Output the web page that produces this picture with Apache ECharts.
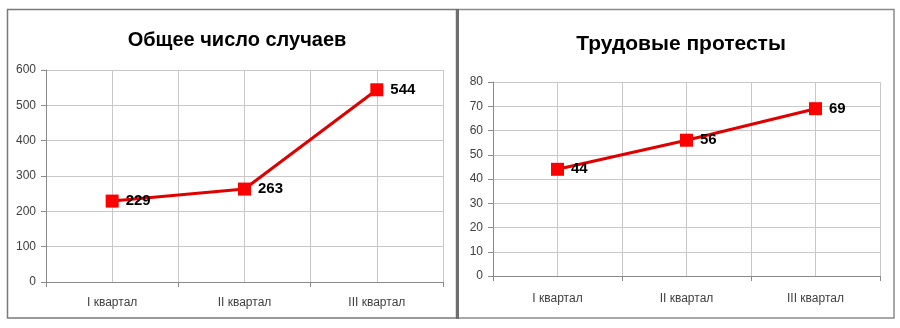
<!DOCTYPE html>
<html><head><meta charset="utf-8">
<script src="https://cdn.jsdelivr.net/npm/echarts@6/dist/echarts.min.js"></script>
<style>html,body{margin:0;padding:0;background:#fff}#c{width:900px;height:328px}</style>
</head><body><div id="c"></div>
<script>
const categories = ['I квартал', 'II квартал', 'III квартал'];
const totalCases = [229, 263, 544];
const laborProtests = [44, 56, 69];
const titles = ['Общее число случаев', 'Трудовые протесты'];

const FONT = '"Liberation Sans", Arial, sans-serif';
const gridColor = '#c8c8c8';
const axisColor = '#8a8a8a';
const textColor = '#404040';

const chart = echarts.init(document.getElementById('c'));

function catAxis(gi, margin) {
  return {
    type: 'category', gridIndex: gi, data: categories, boundaryGap: true,
    axisLine: { lineStyle: { color: axisColor, width: 1 } },
    axisTick: { show: true, length: 5, lineStyle: { color: axisColor }, alignWithLabel: false },
    axisLabel: { color: textColor, fontFamily: FONT, fontSize: 12, margin: margin },
    splitLine: { show: false }
  };
}
function gridAxis(gi) {
  return {
    type: 'value', gridIndex: gi, min: 0, max: 6, interval: 1, position: 'top',
    axisLine: { show: false }, axisTick: { show: false }, axisLabel: { show: false },
    splitLine: { show: true, lineStyle: { color: gridColor, width: 1 } }
  };
}
function valAxis(gi, max, interval) {
  return {
    type: 'value', gridIndex: gi, min: 0, max: max, interval: interval,
    axisLine: { show: true, lineStyle: { color: axisColor } },
    axisTick: { show: true, length: 5, lineStyle: { color: axisColor } },
    axisLabel: { color: textColor, fontFamily: FONT, fontSize: 12, margin: 10 },
    splitLine: { show: true, lineStyle: { color: gridColor, width: 1 } }
  };
}
function lineSeries(xi, yi, data) {
  return {
    type: 'line', xAxisIndex: xi, yAxisIndex: yi, data: data,
    symbol: 'rect', symbolSize: 13,
    lineStyle: { color: '#e00000', width: 3 },
    itemStyle: { color: '#ff0000' },
    label: { show: true, position: 'right', distance: 7, color: '#000', fontFamily: FONT, fontWeight: 'bold', fontSize: 15 },
    z: 5, animation: false
  };
}

chart.setOption({
  animation: false,
  graphic: [
    { type: 'rect', shape: { x: 7.5, y: 9.5, width: 449, height: 308.5 }, style: { fill: 'none', stroke: '#7a7a7a', lineWidth: 1.5 } },
    { type: 'rect', shape: { x: 457.5, y: 9.5, width: 436.5, height: 308.5 }, style: { fill: 'none', stroke: '#8a8a8a', lineWidth: 1.5 } },
    { type: 'rect', shape: { x: 456, y: 9, width: 3, height: 310 }, style: { fill: '#6e6e6e' } }
  ],
  title: [
    { text: titles[0], left: 232, top: 25, textAlign: 'center', textStyle: { fontFamily: FONT, fontWeight: 'bold', fontSize: 20, color: '#000' } },
    { text: titles[1], left: 676, top: 29, textAlign: 'center', textStyle: { fontFamily: FONT, fontWeight: 'bold', fontSize: 21, color: '#000' } }
  ],
  grid: [
    { left: 46, top: 70, width: 397, height: 212 },
    { left: 493, top: 82, width: 387, height: 194 }
  ],
  xAxis: [catAxis(0, 15), catAxis(1, 17), gridAxis(0), gridAxis(1)],
  yAxis: [valAxis(0, 600, 100), valAxis(1, 80, 10)],
  series: [lineSeries(0, 0, totalCases), lineSeries(1, 1, laborProtests)]
});
</script></body></html>
